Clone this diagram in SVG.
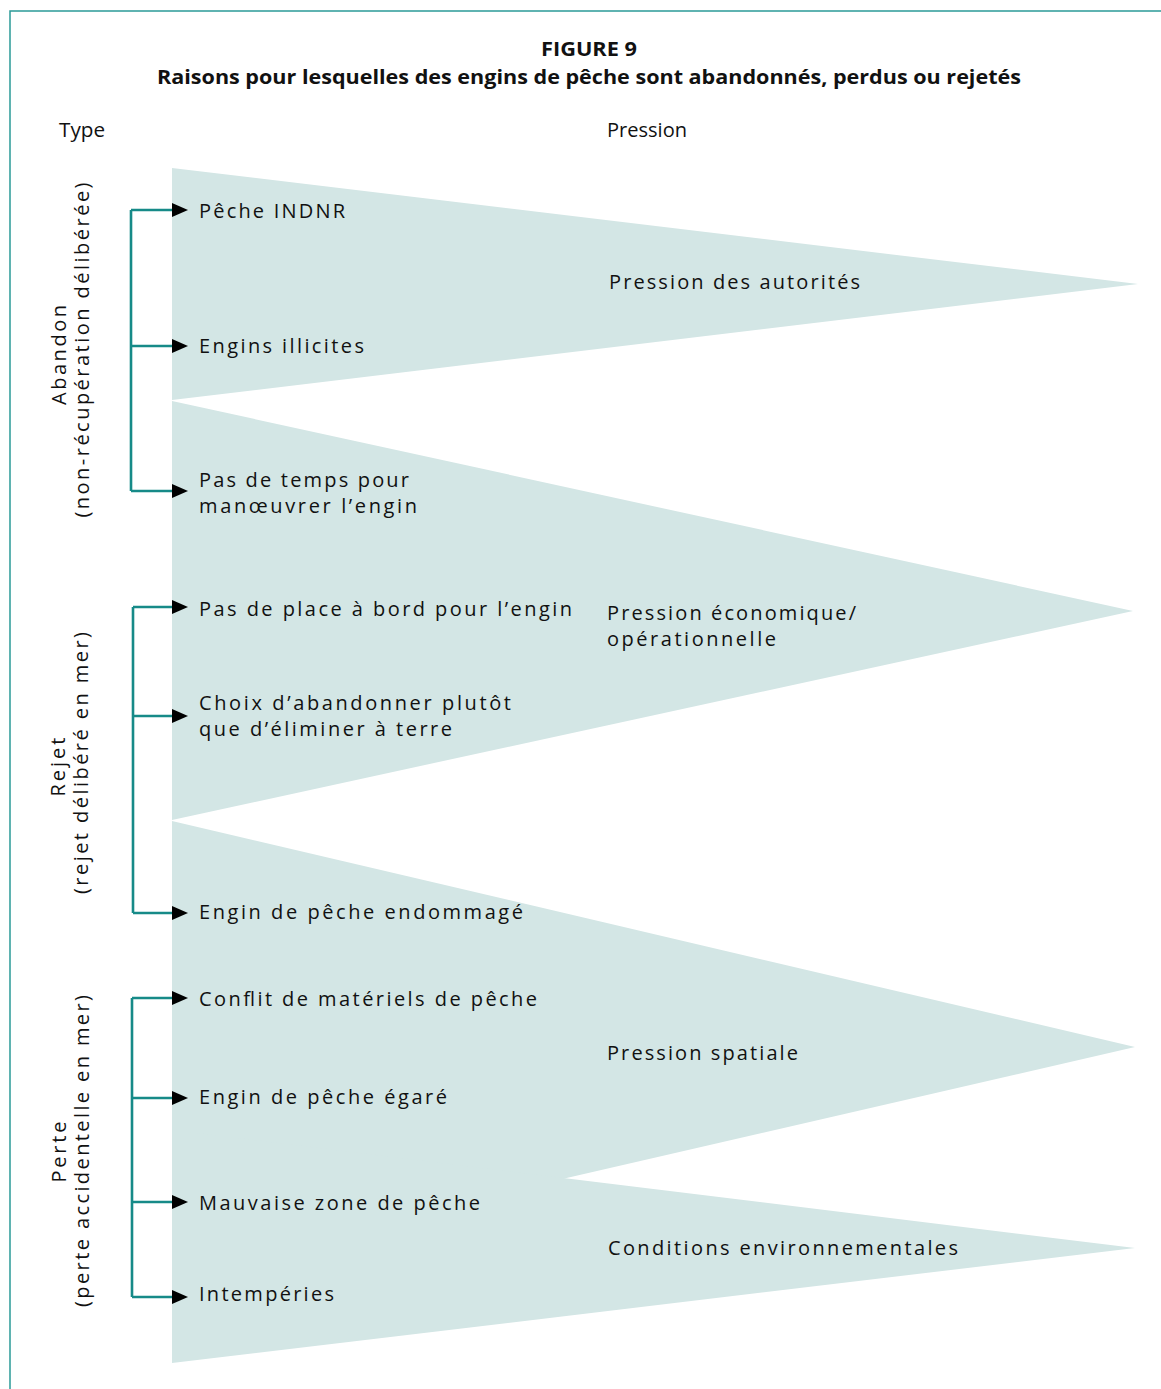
<svg xmlns="http://www.w3.org/2000/svg" width="1161" height="1389" viewBox="0 0 1161 1389">
<style>
.frame{fill:none;stroke:#2b9a98;stroke-width:1.5}
.wedge{fill:#d3e6e5;stroke:none}
.lbl{font-family:"Open Sans","Noto Sans","Liberation Sans",sans-serif;font-size:20px;fill:#111}
.hdr{font-family:"Open Sans","Noto Sans","Liberation Sans",sans-serif;font-size:20px;fill:#111}
.ttl{font-family:"Open Sans","Noto Sans","Liberation Sans",sans-serif;font-size:20px;font-weight:bold;fill:#111}
.br{fill:none;stroke:#168a88;stroke-width:2.6;stroke-linejoin:miter;stroke-linecap:butt}
</style>
<defs>
<marker id="arrow" viewBox="0 0 16 14" refX="0" refY="7" markerWidth="16" markerHeight="14" orient="auto" markerUnits="userSpaceOnUse">
<path d="M0,0 L16,7 L0,14 Z" fill="#000"/>
</marker>
</defs>
<rect width="1161" height="1389" fill="#fff"/>
<path class="frame" d="M10,1389 V11 H1161"/>
<g id="title">
<text class="ttl" x="589" y="56" text-anchor="middle" textLength="96" lengthAdjust="spacingAndGlyphs">FIGURE 9</text>
<text class="ttl" x="589" y="84" text-anchor="middle" textLength="864" lengthAdjust="spacingAndGlyphs">Raisons pour lesquelles des engins de pêche sont abandonnés, perdus ou rejetés</text>
</g>
<g id="headers">
<text class="hdr" x="59" y="137" textLength="46" lengthAdjust="spacingAndGlyphs">Type</text>
<text class="hdr" x="607" y="137" textLength="80" lengthAdjust="spacingAndGlyphs">Pression</text>
</g>
<g id="pression-autorites">
<polygon class="wedge" points="172,168 1138,284 172,400"/>
<text class="lbl" x="609" y="289" textLength="251" lengthAdjust="spacing">Pression des autorités</text>
</g>
<g id="pression-economique">
<polygon class="wedge" points="172,401 1133,611 172,820"/>
<text class="lbl" x="607" y="620" textLength="249" lengthAdjust="spacing">Pression économique/</text>
<text class="lbl" x="607" y="646" textLength="169" lengthAdjust="spacing">opérationnelle</text>
</g>
<g id="pression-spatiale">
<polygon class="wedge" points="172,821 1135,1047 172,1269"/>
<text class="lbl" x="607" y="1060" textLength="191" lengthAdjust="spacing">Pression spatiale</text>
</g>
<g id="conditions-environnementales">
<polygon class="wedge" points="172,1130 1135,1248 172,1363"/>
<text class="lbl" x="608" y="1255" textLength="350" lengthAdjust="spacing">Conditions environnementales</text>
</g>
<g id="type-abandon">
<text class="lbl" transform="translate(66,355) rotate(-90)" text-anchor="middle" textLength="100" lengthAdjust="spacing">Abandon</text>
<text class="lbl" transform="translate(89,350) rotate(-90)" text-anchor="middle" textLength="335" lengthAdjust="spacing">(non-récupération délibérée)</text>
</g>
<g id="type-rejet">
<text class="lbl" transform="translate(65,767) rotate(-90)" text-anchor="middle" textLength="59" lengthAdjust="spacing">Rejet</text>
<text class="lbl" transform="translate(88,763) rotate(-90)" text-anchor="middle" textLength="262" lengthAdjust="spacing">(rejet délibéré en mer)</text>
</g>
<g id="type-perte">
<text class="lbl" transform="translate(66,1152) rotate(-90)" text-anchor="middle" textLength="61" lengthAdjust="spacing">Perte</text>
<text class="lbl" transform="translate(89,1151) rotate(-90)" text-anchor="middle" textLength="312" lengthAdjust="spacing">(perte accidentelle en mer)</text>
</g>
<g id="raison-indnr"><text class="lbl" x="199" y="218" textLength="146" lengthAdjust="spacing">Pêche INDNR</text></g>
<g id="raison-illicites"><text class="lbl" x="199" y="353" textLength="165" lengthAdjust="spacing">Engins illicites</text></g>
<g id="raison-temps">
<text class="lbl" x="199" y="487" textLength="210" lengthAdjust="spacing">Pas de temps pour</text>
<text class="lbl" x="199" y="513" textLength="218" lengthAdjust="spacing">manœuvrer l’engin</text>
</g>
<g id="raison-place"><text class="lbl" x="199" y="616" textLength="373" lengthAdjust="spacing">Pas de place à bord pour l’engin</text></g>
<g id="raison-choix">
<text class="lbl" x="199" y="710" textLength="312" lengthAdjust="spacing">Choix d’abandonner plutôt</text>
<text class="lbl" x="199" y="736" textLength="253" lengthAdjust="spacing">que d’éliminer à terre</text>
</g>
<g id="raison-endommage"><text class="lbl" x="199" y="919" textLength="324" lengthAdjust="spacing">Engin de pêche endommagé</text></g>
<g id="raison-conflit"><text class="lbl" x="199" y="1006" textLength="338" lengthAdjust="spacing">Conflit de matériels de pêche</text></g>
<g id="raison-egare"><text class="lbl" x="199" y="1104" textLength="248" lengthAdjust="spacing">Engin de pêche égaré</text></g>
<g id="raison-zone"><text class="lbl" x="199" y="1210" textLength="281" lengthAdjust="spacing">Mauvaise zone de pêche</text></g>
<g id="raison-intemperies"><text class="lbl" x="199" y="1301" textLength="135" lengthAdjust="spacing">Intempéries</text></g>
<g id="connectors">
<path class="br" d="M131,210 V491"/>
<path class="br" d="M131,210 H172" marker-end="url(#arrow)"/>
<path class="br" d="M131,346 H172" marker-end="url(#arrow)"/>
<path class="br" d="M131,491 H172" marker-end="url(#arrow)"/>
<path class="br" d="M133,607 V913"/>
<path class="br" d="M133,607 H172" marker-end="url(#arrow)"/>
<path class="br" d="M133,716 H172" marker-end="url(#arrow)"/>
<path class="br" d="M133,913 H172" marker-end="url(#arrow)"/>
<path class="br" d="M132,998 V1297"/>
<path class="br" d="M132,998 H172" marker-end="url(#arrow)"/>
<path class="br" d="M132,1098 H172" marker-end="url(#arrow)"/>
<path class="br" d="M132,1202 H172" marker-end="url(#arrow)"/>
<path class="br" d="M132,1297 H172" marker-end="url(#arrow)"/>
</g>
</svg>
